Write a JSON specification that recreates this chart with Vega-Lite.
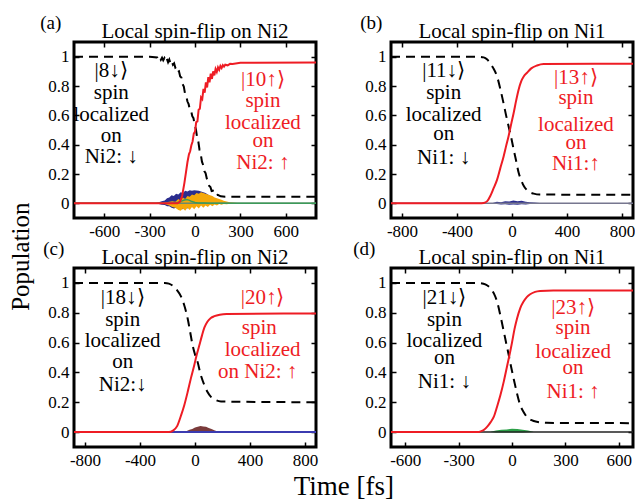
{
  "$schema": "https://vega.github.io/schema/vega-lite/v6.json",
  "background": "white",
  "padding": {"left": 9, "top": 13, "right": 0, "bottom": 0},
  "config": {
    "font": "Liberation Serif",
    "view": {"stroke": "black", "strokeWidth": 3},
    "axis": {"labelFont": "Liberation Serif", "labelFontSize": 17, "labelColor": "black", "tickColor": "black", "tickSize": -5, "tickWidth": 1.5, "domain": false, "grid": false, "labelPadding": 10, "title": null},
    "title": {"font": "Liberation Serif", "fontWeight": "normal", "color": "black", "fontSize": 21},
    "text": {"font": "Liberation Serif"}
  },
  "datasets": {
    "a_lines": [
      {"s": "zero", "t": -800, "v": 0}, {"s": "zero", "t": 800, "v": 0},
      {"s": "green", "t": -800, "v": 0}, {"s": "green", "t": -150, "v": 0}, {"s": "green", "t": -120, "v": 0.005}, {"s": "green", "t": -90, "v": 0.015}, {"s": "green", "t": -70, "v": 0.023}, {"s": "green", "t": -55, "v": 0.026}, {"s": "green", "t": -40, "v": 0.022}, {"s": "green", "t": -20, "v": 0.012}, {"s": "green", "t": 0, "v": 0.006}, {"s": "green", "t": 20, "v": 0.003}, {"s": "green", "t": 60, "v": 0.002}, {"s": "green", "t": 100, "v": 0}, {"s": "green", "t": 800, "v": 0},
      {"s": "down", "t": -800, "v": 1}, {"s": "down", "t": -300, "v": 1}, {"s": "down", "t": -250, "v": 0.995}, {"s": "down", "t": -242, "v": 0.982}, {"s": "down", "t": -234, "v": 0.996}, {"s": "down", "t": -226, "v": 0.978}, {"s": "down", "t": -218, "v": 0.993}, {"s": "down", "t": -210, "v": 0.975}, {"s": "down", "t": -202, "v": 0.99}, {"s": "down", "t": -194, "v": 0.968}, {"s": "down", "t": -186, "v": 0.985}, {"s": "down", "t": -178, "v": 0.962}, {"s": "down", "t": -170, "v": 0.98}, {"s": "down", "t": -162, "v": 0.955}, {"s": "down", "t": -154, "v": 0.97}, {"s": "down", "t": -146, "v": 0.945}, {"s": "down", "t": -138, "v": 0.955}, {"s": "down", "t": -130, "v": 0.925}, {"s": "down", "t": -122, "v": 0.93}, {"s": "down", "t": -114, "v": 0.895}, {"s": "down", "t": -106, "v": 0.9}, {"s": "down", "t": -98, "v": 0.865}, {"s": "down", "t": -90, "v": 0.858}, {"s": "down", "t": -82, "v": 0.812}, {"s": "down", "t": -74, "v": 0.796}, {"s": "down", "t": -66, "v": 0.748}, {"s": "down", "t": -58, "v": 0.731}, {"s": "down", "t": -50, "v": 0.694}, {"s": "down", "t": -42, "v": 0.676}, {"s": "down", "t": -34, "v": 0.639}, {"s": "down", "t": -26, "v": 0.631}, {"s": "down", "t": -18, "v": 0.594}, {"s": "down", "t": -10, "v": 0.581}, {"s": "down", "t": -2, "v": 0.534}, {"s": "down", "t": 6, "v": 0.506}, {"s": "down", "t": 14, "v": 0.449}, {"s": "down", "t": 22, "v": 0.421}, {"s": "down", "t": 30, "v": 0.364}, {"s": "down", "t": 38, "v": 0.336}, {"s": "down", "t": 46, "v": 0.284}, {"s": "down", "t": 54, "v": 0.261}, {"s": "down", "t": 62, "v": 0.219}, {"s": "down", "t": 70, "v": 0.206}, {"s": "down", "t": 78, "v": 0.169}, {"s": "down", "t": 86, "v": 0.156}, {"s": "down", "t": 94, "v": 0.119}, {"s": "down", "t": 102, "v": 0.111}, {"s": "down", "t": 110, "v": 0.084}, {"s": "down", "t": 118, "v": 0.086}, {"s": "down", "t": 126, "v": 0.066}, {"s": "down", "t": 134, "v": 0.069}, {"s": "down", "t": 142, "v": 0.056}, {"s": "down", "t": 150, "v": 0.058}, {"s": "down", "t": 170, "v": 0.048}, {"s": "down", "t": 200, "v": 0.045}, {"s": "down", "t": 800, "v": 0.045},
      {"s": "up", "t": -800, "v": 0}, {"s": "up", "t": -115, "v": 0}, {"s": "up", "t": -100, "v": 0.01}, {"s": "up", "t": -85, "v": 0.05}, {"s": "up", "t": -70, "v": 0.14}, {"s": "up", "t": -60, "v": 0.21}, {"s": "up", "t": -50, "v": 0.28}, {"s": "up", "t": -40, "v": 0.334}, {"s": "up", "t": -32, "v": 0.355}, {"s": "up", "t": -24, "v": 0.396}, {"s": "up", "t": -16, "v": 0.422}, {"s": "up", "t": -8, "v": 0.475}, {"s": "up", "t": 0, "v": 0.488}, {"s": "up", "t": 8, "v": 0.554}, {"s": "up", "t": 16, "v": 0.559}, {"s": "up", "t": 24, "v": 0.638}, {"s": "up", "t": 32, "v": 0.645}, {"s": "up", "t": 40, "v": 0.722}, {"s": "up", "t": 48, "v": 0.711}, {"s": "up", "t": 56, "v": 0.78}, {"s": "up", "t": 64, "v": 0.755}, {"s": "up", "t": 72, "v": 0.825}, {"s": "up", "t": 80, "v": 0.79}, {"s": "up", "t": 88, "v": 0.86}, {"s": "up", "t": 96, "v": 0.825}, {"s": "up", "t": 104, "v": 0.884}, {"s": "up", "t": 112, "v": 0.848}, {"s": "up", "t": 120, "v": 0.9}, {"s": "up", "t": 128, "v": 0.872}, {"s": "up", "t": 136, "v": 0.916}, {"s": "up", "t": 144, "v": 0.896}, {"s": "up", "t": 152, "v": 0.927}, {"s": "up", "t": 160, "v": 0.91}, {"s": "up", "t": 168, "v": 0.936}, {"s": "up", "t": 176, "v": 0.922}, {"s": "up", "t": 184, "v": 0.942}, {"s": "up", "t": 192, "v": 0.932}, {"s": "up", "t": 200, "v": 0.945}, {"s": "up", "t": 216, "v": 0.941}, {"s": "up", "t": 232, "v": 0.951}, {"s": "up", "t": 248, "v": 0.95}, {"s": "up", "t": 300, "v": 0.958}, {"s": "up", "t": 800, "v": 0.96}
    ],
    "a_noise": [
      {"s": "blue", "t": -260, "hi": 0.003, "lo": -0.003}, {"s": "blue", "t": -240, "hi": 0.008, "lo": -0.005}, {"s": "blue", "t": -220, "hi": 0.015, "lo": -0.01}, {"s": "blue", "t": -200, "hi": 0.02, "lo": -0.012}, {"s": "blue", "t": -185, "hi": 0.035, "lo": -0.02}, {"s": "blue", "t": -170, "hi": 0.04, "lo": -0.02}, {"s": "blue", "t": -155, "hi": 0.055, "lo": -0.03}, {"s": "blue", "t": -140, "hi": 0.05, "lo": -0.035}, {"s": "blue", "t": -125, "hi": 0.065, "lo": -0.03}, {"s": "blue", "t": -110, "hi": 0.06, "lo": -0.04}, {"s": "blue", "t": -95, "hi": 0.075, "lo": -0.035}, {"s": "blue", "t": -80, "hi": 0.07, "lo": -0.04}, {"s": "blue", "t": -65, "hi": 0.085, "lo": -0.03}, {"s": "blue", "t": -50, "hi": 0.08, "lo": -0.035}, {"s": "blue", "t": -35, "hi": 0.09, "lo": -0.02}, {"s": "blue", "t": -20, "hi": 0.085, "lo": -0.02}, {"s": "blue", "t": -5, "hi": 0.09, "lo": -0.01}, {"s": "blue", "t": 10, "hi": 0.088, "lo": 0}, {"s": "blue", "t": 25, "hi": 0.085, "lo": 0}, {"s": "blue", "t": 40, "hi": 0.08, "lo": 0}, {"s": "blue", "t": 55, "hi": 0.075, "lo": 0}, {"s": "blue", "t": 70, "hi": 0.07, "lo": 0}, {"s": "blue", "t": 85, "hi": 0.06, "lo": 0}, {"s": "blue", "t": 100, "hi": 0.05, "lo": 0}, {"s": "blue", "t": 120, "hi": 0.035, "lo": 0}, {"s": "blue", "t": 140, "hi": 0.02, "lo": 0}, {"s": "blue", "t": 160, "hi": 0.01, "lo": 0}, {"s": "blue", "t": 180, "hi": 0.004, "lo": 0},
      {"s": "orange", "t": -200, "hi": 0.005, "lo": -0.005}, {"s": "orange", "t": -170, "hi": 0.01, "lo": -0.015}, {"s": "orange", "t": -150, "hi": 0.015, "lo": -0.025}, {"s": "orange", "t": -130, "hi": 0.01, "lo": -0.03}, {"s": "orange", "t": -110, "hi": 0.03, "lo": -0.045}, {"s": "orange", "t": -95, "hi": 0.02, "lo": -0.05}, {"s": "orange", "t": -80, "hi": 0.04, "lo": -0.035}, {"s": "orange", "t": -65, "hi": 0.03, "lo": -0.05}, {"s": "orange", "t": -50, "hi": 0.05, "lo": -0.03}, {"s": "orange", "t": -35, "hi": 0.045, "lo": -0.045}, {"s": "orange", "t": -20, "hi": 0.06, "lo": -0.025}, {"s": "orange", "t": -5, "hi": 0.055, "lo": -0.04}, {"s": "orange", "t": 10, "hi": 0.07, "lo": -0.02}, {"s": "orange", "t": 25, "hi": 0.065, "lo": -0.035}, {"s": "orange", "t": 40, "hi": 0.075, "lo": -0.015}, {"s": "orange", "t": 55, "hi": 0.07, "lo": -0.03}, {"s": "orange", "t": 70, "hi": 0.065, "lo": -0.015}, {"s": "orange", "t": 85, "hi": 0.06, "lo": -0.025}, {"s": "orange", "t": 100, "hi": 0.055, "lo": -0.01}, {"s": "orange", "t": 115, "hi": 0.05, "lo": -0.02}, {"s": "orange", "t": 130, "hi": 0.04, "lo": -0.008}, {"s": "orange", "t": 145, "hi": 0.035, "lo": -0.015}, {"s": "orange", "t": 160, "hi": 0.03, "lo": -0.005}, {"s": "orange", "t": 175, "hi": 0.025, "lo": -0.01}, {"s": "orange", "t": 190, "hi": 0.018, "lo": -0.004}, {"s": "orange", "t": 210, "hi": 0.012, "lo": -0.006}, {"s": "orange", "t": 230, "hi": 0.008, "lo": -0.002}, {"s": "orange", "t": 250, "hi": 0.005, "lo": -0.003}, {"s": "orange", "t": 280, "hi": 0.002, "lo": -0.001}
    ],
    "a_text": [
      {"s": "down", "t": -554, "v": 0.9, "label": "|8↓⟩"}, {"s": "down", "t": -554, "v": 0.755, "label": "spin"}, {"s": "down", "t": -554, "v": 0.605, "label": "localized"}, {"s": "down", "t": -554, "v": 0.458, "label": "on"}, {"s": "down", "t": -554, "v": 0.313, "label": "Ni2: ↓"},
      {"s": "up", "t": 449, "v": 0.843, "label": "|10↑⟩"}, {"s": "up", "t": 449, "v": 0.696, "label": "spin"}, {"s": "up", "t": 449, "v": 0.549, "label": "localized"}, {"s": "up", "t": 449, "v": 0.424, "label": "on"}, {"s": "up", "t": 449, "v": 0.277, "label": "Ni2: ↑"}
    ],
    "b_lines": [
      {"s": "zero", "t": -880, "v": 0}, {"s": "zero", "t": 880, "v": 0},
      {"s": "down", "t": -880, "v": 1}, {"s": "down", "t": -250, "v": 1}, {"s": "down", "t": -206, "v": 0.995}, {"s": "down", "t": -180, "v": 0.98}, {"s": "down", "t": -158, "v": 0.955}, {"s": "down", "t": -135, "v": 0.92}, {"s": "down", "t": -109, "v": 0.866}, {"s": "down", "t": -85, "v": 0.78}, {"s": "down", "t": -61, "v": 0.68}, {"s": "down", "t": -43, "v": 0.6}, {"s": "down", "t": -25, "v": 0.526}, {"s": "down", "t": -6, "v": 0.45}, {"s": "down", "t": 12, "v": 0.367}, {"s": "down", "t": 30, "v": 0.29}, {"s": "down", "t": 48, "v": 0.21}, {"s": "down", "t": 66, "v": 0.16}, {"s": "down", "t": 85, "v": 0.12}, {"s": "down", "t": 109, "v": 0.09}, {"s": "down", "t": 130, "v": 0.075}, {"s": "down", "t": 158, "v": 0.066}, {"s": "down", "t": 200, "v": 0.06}, {"s": "down", "t": 880, "v": 0.058},
      {"s": "up", "t": -880, "v": 0}, {"s": "up", "t": -240, "v": 0}, {"s": "up", "t": -206, "v": 0.003}, {"s": "up", "t": -180, "v": 0.015}, {"s": "up", "t": -158, "v": 0.05}, {"s": "up", "t": -135, "v": 0.1}, {"s": "up", "t": -109, "v": 0.16}, {"s": "up", "t": -85, "v": 0.24}, {"s": "up", "t": -61, "v": 0.32}, {"s": "up", "t": -43, "v": 0.39}, {"s": "up", "t": -25, "v": 0.458}, {"s": "up", "t": -6, "v": 0.54}, {"s": "up", "t": 12, "v": 0.616}, {"s": "up", "t": 30, "v": 0.7}, {"s": "up", "t": 48, "v": 0.775}, {"s": "up", "t": 66, "v": 0.83}, {"s": "up", "t": 85, "v": 0.865}, {"s": "up", "t": 109, "v": 0.89}, {"s": "up", "t": 140, "v": 0.92}, {"s": "up", "t": 182, "v": 0.94}, {"s": "up", "t": 230, "v": 0.95}, {"s": "up", "t": 880, "v": 0.952}
    ],
    "b_noise": [
      {"s": "blue", "t": -140, "hi": 0.003, "lo": -0.002}, {"s": "blue", "t": -110, "hi": 0.01, "lo": -0.005}, {"s": "blue", "t": -80, "hi": 0.008, "lo": -0.008}, {"s": "blue", "t": -50, "hi": 0.015, "lo": -0.006}, {"s": "blue", "t": -20, "hi": 0.012, "lo": -0.01}, {"s": "blue", "t": 10, "hi": 0.02, "lo": -0.008}, {"s": "blue", "t": 40, "hi": 0.015, "lo": -0.01}, {"s": "blue", "t": 70, "hi": 0.018, "lo": -0.006}, {"s": "blue", "t": 100, "hi": 0.01, "lo": -0.008}, {"s": "blue", "t": 130, "hi": 0.008, "lo": -0.004}, {"s": "blue", "t": 160, "hi": 0.005, "lo": -0.003}, {"s": "blue", "t": 200, "hi": 0.002, "lo": -0.001}
    ],
    "b_text": [
      {"s": "down", "t": -497, "v": 0.9, "label": "|11↓⟩"}, {"s": "down", "t": -497, "v": 0.753, "label": "spin"}, {"s": "down", "t": -497, "v": 0.6, "label": "localized"}, {"s": "down", "t": -497, "v": 0.47, "label": "on"}, {"s": "down", "t": -497, "v": 0.31, "label": "Ni1: ↓"},
      {"s": "up", "t": 465, "v": 0.855, "label": "|13↑⟩"}, {"s": "up", "t": 465, "v": 0.72, "label": "spin"}, {"s": "up", "t": 465, "v": 0.537, "label": "localized"}, {"s": "up", "t": 465, "v": 0.413, "label": "on"}, {"s": "up", "t": 465, "v": 0.265, "label": "Ni1:↑"}
    ],
    "c_lines": [
      {"s": "zero", "t": -880, "v": 0}, {"s": "zero", "t": 880, "v": 0},
      {"s": "down", "t": -880, "v": 1}, {"s": "down", "t": -220, "v": 1}, {"s": "down", "t": -190, "v": 0.995}, {"s": "down", "t": -160, "v": 0.98}, {"s": "down", "t": -130, "v": 0.95}, {"s": "down", "t": -102, "v": 0.91}, {"s": "down", "t": -75, "v": 0.84}, {"s": "down", "t": -53, "v": 0.76}, {"s": "down", "t": -35, "v": 0.67}, {"s": "down", "t": -17, "v": 0.58}, {"s": "down", "t": 0, "v": 0.52}, {"s": "down", "t": 19, "v": 0.47}, {"s": "down", "t": 40, "v": 0.39}, {"s": "down", "t": 68, "v": 0.315}, {"s": "down", "t": 90, "v": 0.27}, {"s": "down", "t": 116, "v": 0.236}, {"s": "down", "t": 150, "v": 0.215}, {"s": "down", "t": 189, "v": 0.205}, {"s": "down", "t": 880, "v": 0.2},
      {"s": "up", "t": -880, "v": 0}, {"s": "up", "t": -190, "v": 0}, {"s": "up", "t": -160, "v": 0.01}, {"s": "up", "t": -130, "v": 0.04}, {"s": "up", "t": -102, "v": 0.11}, {"s": "up", "t": -78, "v": 0.18}, {"s": "up", "t": -53, "v": 0.27}, {"s": "up", "t": -30, "v": 0.36}, {"s": "up", "t": -5, "v": 0.45}, {"s": "up", "t": 13, "v": 0.52}, {"s": "up", "t": 31, "v": 0.58}, {"s": "up", "t": 50, "v": 0.645}, {"s": "up", "t": 68, "v": 0.7}, {"s": "up", "t": 90, "v": 0.74}, {"s": "up", "t": 115, "v": 0.765}, {"s": "up", "t": 141, "v": 0.777}, {"s": "up", "t": 180, "v": 0.787}, {"s": "up", "t": 230, "v": 0.792}, {"s": "up", "t": 880, "v": 0.795}
    ],
    "c_noise": [
      {"s": "brown", "t": -80, "hi": 0.003, "lo": 0}, {"s": "brown", "t": -60, "hi": 0.008, "lo": -0.002}, {"s": "brown", "t": -40, "hi": 0.015, "lo": -0.003}, {"s": "brown", "t": -20, "hi": 0.02, "lo": -0.004}, {"s": "brown", "t": 0, "hi": 0.03, "lo": -0.005}, {"s": "brown", "t": 20, "hi": 0.035, "lo": -0.006}, {"s": "brown", "t": 40, "hi": 0.04, "lo": -0.005}, {"s": "brown", "t": 60, "hi": 0.038, "lo": -0.006}, {"s": "brown", "t": 80, "hi": 0.035, "lo": -0.005}, {"s": "brown", "t": 100, "hi": 0.028, "lo": -0.004}, {"s": "brown", "t": 120, "hi": 0.02, "lo": -0.003}, {"s": "brown", "t": 140, "hi": 0.012, "lo": -0.002}, {"s": "brown", "t": 160, "hi": 0.006, "lo": -0.001}, {"s": "brown", "t": 190, "hi": 0.002, "lo": 0}
    ],
    "c_text": [
      {"s": "down", "t": -526, "v": 0.897, "label": "|18↓⟩"}, {"s": "down", "t": -526, "v": 0.75, "label": "spin"}, {"s": "down", "t": -526, "v": 0.61, "label": "localized"}, {"s": "down", "t": -526, "v": 0.47, "label": "on"}, {"s": "down", "t": -526, "v": 0.315, "label": "Ni2:↓"},
      {"s": "up", "t": 492, "v": 0.897, "label": "|20↑⟩"}, {"s": "up", "t": 468, "v": 0.696, "label": "spin"}, {"s": "up", "t": 492, "v": 0.55, "label": "localized"}, {"s": "up", "t": 456, "v": 0.4, "label": "on Ni2: ↑"}
    ],
    "d_lines": [
      {"s": "zero", "t": -680, "v": 0}, {"s": "zero", "t": 680, "v": 0},
      {"s": "down", "t": -680, "v": 1}, {"s": "down", "t": -200, "v": 1}, {"s": "down", "t": -176, "v": 0.998}, {"s": "down", "t": -150, "v": 0.99}, {"s": "down", "t": -121, "v": 0.964}, {"s": "down", "t": -102, "v": 0.93}, {"s": "down", "t": -84, "v": 0.875}, {"s": "down", "t": -65, "v": 0.78}, {"s": "down", "t": -46, "v": 0.673}, {"s": "down", "t": -28, "v": 0.57}, {"s": "down", "t": -19, "v": 0.52}, {"s": "down", "t": -9, "v": 0.46}, {"s": "down", "t": 0, "v": 0.41}, {"s": "down", "t": 9, "v": 0.36}, {"s": "down", "t": 28, "v": 0.26}, {"s": "down", "t": 46, "v": 0.181}, {"s": "down", "t": 65, "v": 0.135}, {"s": "down", "t": 83, "v": 0.103}, {"s": "down", "t": 110, "v": 0.08}, {"s": "down", "t": 139, "v": 0.069}, {"s": "down", "t": 195, "v": 0.062}, {"s": "down", "t": 680, "v": 0.06},
      {"s": "up", "t": -680, "v": 0}, {"s": "up", "t": -190, "v": 0}, {"s": "up", "t": -176, "v": 0.005}, {"s": "up", "t": -160, "v": 0.013}, {"s": "up", "t": -139, "v": 0.036}, {"s": "up", "t": -121, "v": 0.065}, {"s": "up", "t": -102, "v": 0.103}, {"s": "up", "t": -84, "v": 0.17}, {"s": "up", "t": -65, "v": 0.248}, {"s": "up", "t": -46, "v": 0.34}, {"s": "up", "t": -28, "v": 0.44}, {"s": "up", "t": -10, "v": 0.54}, {"s": "up", "t": 0, "v": 0.6}, {"s": "up", "t": 14, "v": 0.69}, {"s": "up", "t": 28, "v": 0.76}, {"s": "up", "t": 46, "v": 0.83}, {"s": "up", "t": 65, "v": 0.875}, {"s": "up", "t": 83, "v": 0.905}, {"s": "up", "t": 102, "v": 0.924}, {"s": "up", "t": 130, "v": 0.94}, {"s": "up", "t": 158, "v": 0.946}, {"s": "up", "t": 232, "v": 0.95}, {"s": "up", "t": 680, "v": 0.95}
    ],
    "d_noise": [
      {"s": "green", "t": -120, "hi": 0.002, "lo": 0}, {"s": "green", "t": -90, "hi": 0.01, "lo": -0.002}, {"s": "green", "t": -60, "hi": 0.015, "lo": -0.003}, {"s": "green", "t": -30, "hi": 0.018, "lo": -0.002}, {"s": "green", "t": 0, "hi": 0.022, "lo": -0.003}, {"s": "green", "t": 30, "hi": 0.02, "lo": -0.002}, {"s": "green", "t": 60, "hi": 0.016, "lo": -0.002}, {"s": "green", "t": 90, "hi": 0.01, "lo": -0.001}, {"s": "green", "t": 120, "hi": 0.003, "lo": 0}
    ],
    "d_text": [
      {"s": "down", "t": -380, "v": 0.897, "label": "|21↓⟩"}, {"s": "down", "t": -380, "v": 0.75, "label": "spin"}, {"s": "down", "t": -380, "v": 0.61, "label": "localized"}, {"s": "down", "t": -380, "v": 0.495, "label": "on"}, {"s": "down", "t": -380, "v": 0.338, "label": "Ni1: ↓"},
      {"s": "up", "t": 343, "v": 0.83, "label": "|23↑⟩"}, {"s": "up", "t": 343, "v": 0.696, "label": "spin"}, {"s": "up", "t": 343, "v": 0.54, "label": "localized"}, {"s": "up", "t": 343, "v": 0.43, "label": "on"}, {"s": "up", "t": 343, "v": 0.27, "label": "Ni1: ↑"}
    ]
  },
  "title": {"text": "Time [fs]", "orient": "bottom", "anchor": "middle", "fontSize": 27, "offset": 4, "dx": 20, "font": "Liberation Serif"},
  "vconcat": [
    {
      "title": {"text": "Population", "orient": "left", "anchor": "middle", "fontSize": 25, "offset": 6, "dx": -15, "font": "Liberation Serif"},
      "columns": 2,
      "spacing": {"row": -2, "column": 31},
      "concat": [
        {
          "title": {"text": "(a)", "anchor": "start", "offset": -13, "dx": -6, "fontSize": 19, "font": "Liberation Serif"},
          "vconcat": [{
            "title": {"text": "Local spin-flip on Ni2", "offset": -1, "font": "Liberation Serif"},
            "width": 242, "height": 176,
            "resolve": {"axis": {"x": "independent", "y": "independent"}},
            "layer": [
              {"data": {"name": "a_noise"}, "transform": [{"filter": "datum.s == 'blue'"}], "mark": {"type": "area", "color": "#2b2d8e"},
               "encoding": {"x": {"field": "t", "type": "quantitative", "scale": {"domain": [-800, 800], "nice": false, "zero": false}, "axis": null}, "y": {"field": "hi", "type": "quantitative", "scale": {"domain": [-0.1, 1.1], "nice": false, "zero": false}, "axis": null}, "y2": {"field": "lo"}}},
              {"data": {"name": "a_noise"}, "transform": [{"filter": "datum.s == 'orange'"}], "mark": {"type": "area", "color": "#f5a80a"},
               "encoding": {"x": {"field": "t", "type": "quantitative", "axis": null}, "y": {"field": "hi", "type": "quantitative", "axis": null}, "y2": {"field": "lo"}}},
              {"data": {"name": "a_lines"}, "transform": [{"filter": "datum.s == 'zero'"}], "mark": {"type": "line", "color": "#6b8a6b", "strokeWidth": 1.5},
               "encoding": {"x": {"field": "t", "type": "quantitative", "axis": {"orient": "top", "values": [-600, -300, 0, 300, 600], "labels": false}}, "y": {"field": "v", "type": "quantitative", "axis": {"orient": "right", "values": [0, 0.2, 0.4, 0.6, 0.8, 1], "labels": false}}}},
              {"data": {"name": "a_lines"}, "transform": [{"filter": "datum.s == 'green'"}], "mark": {"type": "line", "color": "#3c9a5a", "strokeWidth": 1.5},
               "encoding": {"x": {"field": "t", "type": "quantitative", "axis": null}, "y": {"field": "v", "type": "quantitative", "axis": null}}},
              {"data": {"name": "a_lines"}, "transform": [{"filter": "datum.s == 'down'"}], "mark": {"type": "line", "color": "black", "strokeWidth": 2, "strokeDash": [9, 6]},
               "encoding": {"x": {"field": "t", "type": "quantitative", "axis": {"orient": "bottom", "values": [-600, -300, 0, 300, 600], "labelFont": "Liberation Serif", "labelExpr": "datum.value < 0 ? '-' + abs(datum.value) : '' + datum.value"}}, "y": {"field": "v", "type": "quantitative", "axis": {"orient": "left", "values": [0, 0.2, 0.4, 0.6, 0.8, 1], "labelFont": "Liberation Serif", "labelExpr": "'' + datum.value"}}}},
              {"data": {"name": "a_lines"}, "transform": [{"filter": "datum.s == 'up'"}], "mark": {"type": "line", "color": "#ee1c24", "strokeWidth": 2},
               "encoding": {"x": {"field": "t", "type": "quantitative", "axis": null}, "y": {"field": "v", "type": "quantitative", "axis": null}}},
              {"data": {"name": "a_text"}, "mark": {"type": "text", "font": "Liberation Serif", "fontSize": 21, "baseline": "middle", "align": "center"},
               "encoding": {"x": {"field": "t", "type": "quantitative", "axis": null}, "y": {"field": "v", "type": "quantitative", "axis": null}, "text": {"field": "label"}, "color": {"field": "s", "type": "nominal", "scale": {"domain": ["down", "up"], "range": ["black", "#ee1c24"]}, "legend": null}}}
            ]
          }]
        },
        {
          "title": {"text": "(b)", "anchor": "start", "offset": -13, "dx": -3, "fontSize": 19, "font": "Liberation Serif"},
          "vconcat": [{
            "title": {"text": "Local spin-flip on Ni1", "offset": -1, "font": "Liberation Serif"},
            "width": 242, "height": 176,
            "resolve": {"axis": {"x": "independent", "y": "independent"}},
            "layer": [
              {"data": {"name": "b_noise"}, "mark": {"type": "area", "color": "#2b2d8e"},
               "encoding": {"x": {"field": "t", "type": "quantitative", "scale": {"domain": [-880, 880], "nice": false, "zero": false}, "axis": null}, "y": {"field": "hi", "type": "quantitative", "scale": {"domain": [-0.1, 1.1], "nice": false, "zero": false}, "axis": null}, "y2": {"field": "lo"}}},
              {"data": {"name": "b_lines"}, "transform": [{"filter": "datum.s == 'zero'"}], "mark": {"type": "line", "color": "#77778f", "strokeWidth": 1.5},
               "encoding": {"x": {"field": "t", "type": "quantitative", "axis": {"orient": "top", "values": [-800, -400, 0, 400, 800], "labels": false}}, "y": {"field": "v", "type": "quantitative", "axis": {"orient": "right", "values": [0, 0.2, 0.4, 0.6, 0.8, 1], "labels": false}}}},
              {"data": {"name": "b_lines"}, "transform": [{"filter": "datum.s == 'down'"}], "mark": {"type": "line", "color": "black", "strokeWidth": 2, "strokeDash": [9, 6], "interpolate": "monotone"},
               "encoding": {"x": {"field": "t", "type": "quantitative", "axis": {"orient": "bottom", "values": [-800, -400, 0, 400, 800], "labelFont": "Liberation Serif", "labelExpr": "datum.value < 0 ? '-' + abs(datum.value) : '' + datum.value"}}, "y": {"field": "v", "type": "quantitative", "axis": {"orient": "left", "values": [0, 0.2, 0.4, 0.6, 0.8, 1], "labelFont": "Liberation Serif", "labelExpr": "'' + datum.value"}}}},
              {"data": {"name": "b_lines"}, "transform": [{"filter": "datum.s == 'up'"}], "mark": {"type": "line", "color": "#ee1c24", "strokeWidth": 2, "interpolate": "monotone"},
               "encoding": {"x": {"field": "t", "type": "quantitative", "axis": null}, "y": {"field": "v", "type": "quantitative", "axis": null}}},
              {"data": {"name": "b_text"}, "mark": {"type": "text", "font": "Liberation Serif", "fontSize": 21, "baseline": "middle", "align": "center"},
               "encoding": {"x": {"field": "t", "type": "quantitative", "axis": null}, "y": {"field": "v", "type": "quantitative", "axis": null}, "text": {"field": "label"}, "color": {"field": "s", "type": "nominal", "scale": {"domain": ["down", "up"], "range": ["black", "#ee1c24"]}, "legend": null}}}
            ]
          }]
        },
        {
          "title": {"text": "(c)", "anchor": "start", "offset": -13, "dx": -3, "fontSize": 19, "font": "Liberation Serif"},
          "vconcat": [{
            "title": {"text": "Local spin-flip on Ni2", "offset": -1, "font": "Liberation Serif"},
            "width": 242, "height": 179,
            "resolve": {"axis": {"x": "independent", "y": "independent"}},
            "layer": [
              {"data": {"name": "c_noise"}, "mark": {"type": "area", "color": "#7a3b3b"},
               "encoding": {"x": {"field": "t", "type": "quantitative", "scale": {"domain": [-880, 880], "nice": false, "zero": false}, "axis": null}, "y": {"field": "hi", "type": "quantitative", "scale": {"domain": [-0.1, 1.1], "nice": false, "zero": false}, "axis": null}, "y2": {"field": "lo"}}},
              {"data": {"name": "c_lines"}, "transform": [{"filter": "datum.s == 'zero'"}], "mark": {"type": "line", "color": "#3b3bb0", "strokeWidth": 2},
               "encoding": {"x": {"field": "t", "type": "quantitative", "axis": {"orient": "top", "values": [-800, -400, 0, 400, 800], "labels": false}}, "y": {"field": "v", "type": "quantitative", "axis": {"orient": "right", "values": [0, 0.2, 0.4, 0.6, 0.8, 1], "labels": false}}}},
              {"data": {"name": "c_lines"}, "transform": [{"filter": "datum.s == 'down'"}], "mark": {"type": "line", "color": "black", "strokeWidth": 2, "strokeDash": [9, 6], "interpolate": "monotone"},
               "encoding": {"x": {"field": "t", "type": "quantitative", "axis": {"orient": "bottom", "values": [-800, -400, 0, 400, 800], "labelFont": "Liberation Serif", "labelExpr": "datum.value < 0 ? '-' + abs(datum.value) : '' + datum.value"}}, "y": {"field": "v", "type": "quantitative", "axis": {"orient": "left", "values": [0, 0.2, 0.4, 0.6, 0.8, 1], "labelFont": "Liberation Serif", "labelExpr": "'' + datum.value"}}}},
              {"data": {"name": "c_lines"}, "transform": [{"filter": "datum.s == 'up'"}], "mark": {"type": "line", "color": "#ee1c24", "strokeWidth": 2, "interpolate": "monotone"},
               "encoding": {"x": {"field": "t", "type": "quantitative", "axis": null}, "y": {"field": "v", "type": "quantitative", "axis": null}}},
              {"data": {"name": "c_text"}, "mark": {"type": "text", "font": "Liberation Serif", "fontSize": 21, "baseline": "middle", "align": "center"},
               "encoding": {"x": {"field": "t", "type": "quantitative", "axis": null}, "y": {"field": "v", "type": "quantitative", "axis": null}, "text": {"field": "label"}, "color": {"field": "s", "type": "nominal", "scale": {"domain": ["down", "up"], "range": ["black", "#ee1c24"]}, "legend": null}}}
            ]
          }]
        },
        {
          "title": {"text": "(d)", "anchor": "start", "offset": -13, "dx": -10, "fontSize": 19, "font": "Liberation Serif"},
          "vconcat": [{
            "title": {"text": "Local spin-flip on Ni1", "offset": -1, "font": "Liberation Serif"},
            "width": 242, "height": 179,
            "resolve": {"axis": {"x": "independent", "y": "independent"}},
            "layer": [
              {"data": {"name": "d_noise"}, "mark": {"type": "area", "color": "#2ca048"},
               "encoding": {"x": {"field": "t", "type": "quantitative", "scale": {"domain": [-680, 680], "nice": false, "zero": false}, "axis": null}, "y": {"field": "hi", "type": "quantitative", "scale": {"domain": [-0.1, 1.1], "nice": false, "zero": false}, "axis": null}, "y2": {"field": "lo"}}},
              {"data": {"name": "d_lines"}, "transform": [{"filter": "datum.s == 'zero'"}], "mark": {"type": "line", "color": "#222222", "strokeWidth": 1.5},
               "encoding": {"x": {"field": "t", "type": "quantitative", "axis": {"orient": "top", "values": [-600, -300, 0, 300, 600], "labels": false}}, "y": {"field": "v", "type": "quantitative", "axis": {"orient": "right", "values": [0, 0.2, 0.4, 0.6, 0.8, 1], "labels": false}}}},
              {"data": {"name": "d_lines"}, "transform": [{"filter": "datum.s == 'down'"}], "mark": {"type": "line", "color": "black", "strokeWidth": 2, "strokeDash": [9, 6], "interpolate": "monotone"},
               "encoding": {"x": {"field": "t", "type": "quantitative", "axis": {"orient": "bottom", "values": [-600, -300, 0, 300, 600], "labelFont": "Liberation Serif", "labelExpr": "datum.value < 0 ? '-' + abs(datum.value) : '' + datum.value"}}, "y": {"field": "v", "type": "quantitative", "axis": {"orient": "left", "values": [0, 0.2, 0.4, 0.6, 0.8, 1], "labelFont": "Liberation Serif", "labelExpr": "'' + datum.value"}}}},
              {"data": {"name": "d_lines"}, "transform": [{"filter": "datum.s == 'up'"}], "mark": {"type": "line", "color": "#ee1c24", "strokeWidth": 2, "interpolate": "monotone"},
               "encoding": {"x": {"field": "t", "type": "quantitative", "axis": null}, "y": {"field": "v", "type": "quantitative", "axis": null}}},
              {"data": {"name": "d_text"}, "mark": {"type": "text", "font": "Liberation Serif", "fontSize": 21, "baseline": "middle", "align": "center"},
               "encoding": {"x": {"field": "t", "type": "quantitative", "axis": null}, "y": {"field": "v", "type": "quantitative", "axis": null}, "text": {"field": "label"}, "color": {"field": "s", "type": "nominal", "scale": {"domain": ["down", "up"], "range": ["black", "#ee1c24"]}, "legend": null}}}
            ]
          }]
        }
      ]
    }
  ]
}
